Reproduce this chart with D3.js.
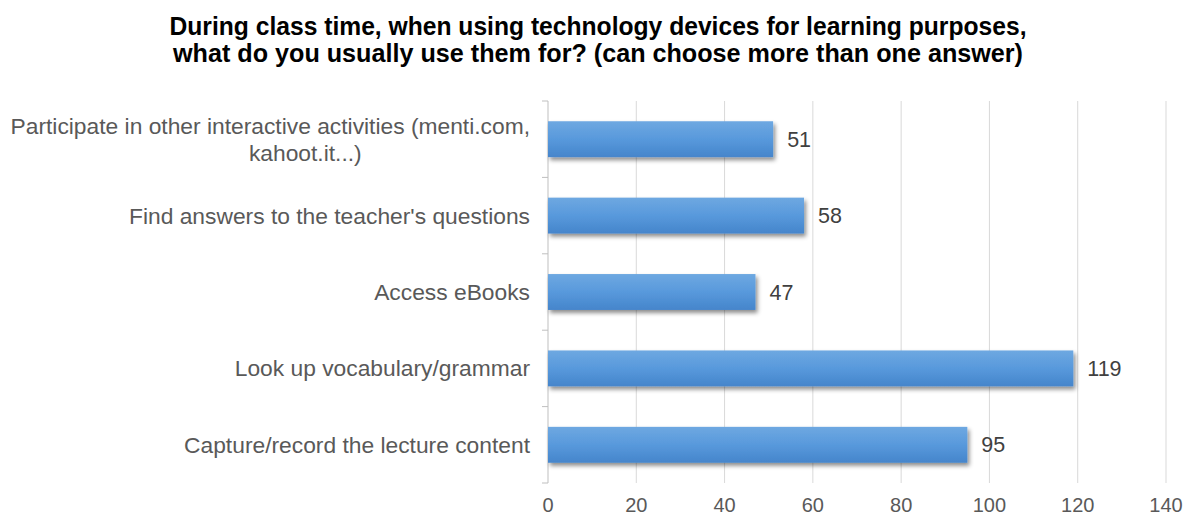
<!DOCTYPE html>
<html>
<head>
<meta charset="utf-8">
<script src="https://cdn.jsdelivr.net/npm/d3@7"></script>
<style>
  body { margin: 0; background: #fff; }
  svg { display: block; }
</style>
</head>
<body>
<script>
const w = 1185;
const h = 516;

// chart data
const categories = [
  "Participate in other interactive activities (menti.com,\nkahoot.it...)",
  "Find answers to the teacher's questions",
  "Access eBooks",
  "Look up vocabulary/grammar",
  "Capture/record the lecture content"
];
const values = [51, 58, 47, 119, 95];
const xTicks = [0, 20, 40, 60, 80, 100, 120, 140];
const titleLines = [
  "During class time, when using technology devices for learning purposes,",
  "what do you usually use them for? (can choose  more than one answer)"
];

const margin = { top: 101, right: 19, bottom: 33, left: 548 };

const svg = d3.select("body")
  .append("svg")
  .attr("width", w)
  .attr("height", h);

// bar gradient + shadow
const defs = svg.append("defs");
const grad = defs.append("linearGradient")
  .attr("id", "barGrad")
  .attr("x1", 0).attr("y1", 0).attr("x2", 0).attr("y2", 1);
grad.append("stop").attr("offset", "0%").attr("stop-color", "#6ea8e1");
grad.append("stop").attr("offset", "50%").attr("stop-color", "#5899dc");
grad.append("stop").attr("offset", "100%").attr("stop-color", "#4585cb");

const shadow = defs.append("filter")
  .attr("id", "shadow")
  .attr("x", "-5%").attr("y", "-20%")
  .attr("width", "115%").attr("height", "160%");
shadow.append("feDropShadow")
  .attr("dx", 2).attr("dy", 3)
  .attr("stdDeviation", 2)
  .attr("flood-color", "#000")
  .attr("flood-opacity", 0.45);

// title
svg.append("g")
  .selectAll("text")
  .data(titleLines)
  .enter()
  .append("text")
  .attr("x", 598)
  .attr("y", (d, i) => 35 + i * 27)
  .attr("text-anchor", "middle")
  .attr("font-family", "'Liberation Sans Narrow', 'Liberation Sans', Arial, sans-serif")
  .attr("font-weight", "bold")
  .attr("font-size", 25)
  .attr("textLength", (d, i) => i === 0 ? 857 : 850)
  .attr("lengthAdjust", "spacingAndGlyphs")
  .attr("fill", "#000")
  .text(d => d);

// scales
const xScale = d3.scaleLinear()
  .domain([0, 140])
  .range([margin.left, w - margin.right]);

const yScale = d3.scaleBand()
  .domain(categories)
  .range([margin.top, h - margin.bottom])
  .paddingInner(0.53)
  .paddingOuter(0.265);

// vertical gridlines
svg.append("g")
  .selectAll("line")
  .data(xTicks.slice(1))
  .enter()
  .append("line")
  .attr("x1", d => xScale(d))
  .attr("x2", d => xScale(d))
  .attr("y1", margin.top)
  .attr("y2", h - margin.bottom)
  .attr("stroke", "#d9d9d9")
  .attr("stroke-width", 1);

// x tick labels
svg.append("g")
  .selectAll("text")
  .data(xTicks)
  .enter()
  .append("text")
  .attr("x", d => xScale(d))
  .attr("y", h - margin.bottom + 29)
  .attr("text-anchor", "middle")
  .attr("font-family", "'Liberation Sans', Arial, sans-serif")
  .attr("font-size", 20)
  .attr("fill", "#595959")
  .text(d => d);

// y axis line with tick marks between categories
const yAxisG = svg.append("g");
yAxisG.append("line")
  .attr("x1", margin.left).attr("x2", margin.left)
  .attr("y1", margin.top).attr("y2", h - margin.bottom)
  .attr("stroke", "#bfbfbf");
const boundaries = d3.range(categories.length + 1).map(i => margin.top + i * (h - margin.top - margin.bottom) / categories.length);
yAxisG.selectAll("line.tick")
  .data(boundaries)
  .enter()
  .append("line")
  .attr("class", "tick")
  .attr("x1", margin.left - 6).attr("x2", margin.left)
  .attr("y1", d => d).attr("y2", d => d)
  .attr("stroke", "#bfbfbf");

// category labels (manual line breaks)
const labels = svg.append("g")
  .selectAll("text")
  .data(categories)
  .enter()
  .append("text")
  .attr("font-family", "'Liberation Sans', Arial, sans-serif")
  .attr("font-size", 22.8)
  .attr("fill", "#595959");

labels.each(function (d) {
  const lines = d.split("\n");
  const cy = yScale(d) + yScale.bandwidth() / 2;
  const t = d3.select(this);
  const lineH = 27;
  const first = t.append("tspan")
    .attr("x", margin.left - 18)
    .attr("text-anchor", "end")
    .attr("y", cy - (lines.length - 1) * lineH / 2)
    .attr("dy", "0.35em")
    .text(lines[0]);
  if (lines.length > 1) {
    const w1 = first.node().getComputedTextLength();
    lines.slice(1).forEach((ln, i) => {
      t.append("tspan")
        .attr("x", margin.left - 18 - w1 / 2 + 35)
        .attr("text-anchor", "middle")
        .attr("y", cy - (lines.length - 1) * lineH / 2 + (i + 1) * lineH)
        .attr("dy", "0.35em")
        .text(ln);
    });
  }
});

// bars
svg.append("g")
  .selectAll("rect")
  .data(values)
  .enter()
  .append("rect")
  .attr("x", xScale(0))
  .attr("y", (d, i) => yScale(categories[i]))
  .attr("width", d => xScale(d) - xScale(0))
  .attr("height", yScale.bandwidth())
  .attr("fill", "url(#barGrad)")
  .attr("filter", "url(#shadow)");

// value labels
svg.append("g")
  .selectAll("text")
  .data(values)
  .enter()
  .append("text")
  .attr("x", d => xScale(d) + 14)
  .attr("y", (d, i) => yScale(categories[i]) + yScale.bandwidth() / 2)
  .attr("dy", "0.35em")
  .attr("font-family", "'Liberation Sans', Arial, sans-serif")
  .attr("font-size", 21.5)
  .attr("fill", "#404040")
  .text(d => d);
</script>
</body>
</html>
